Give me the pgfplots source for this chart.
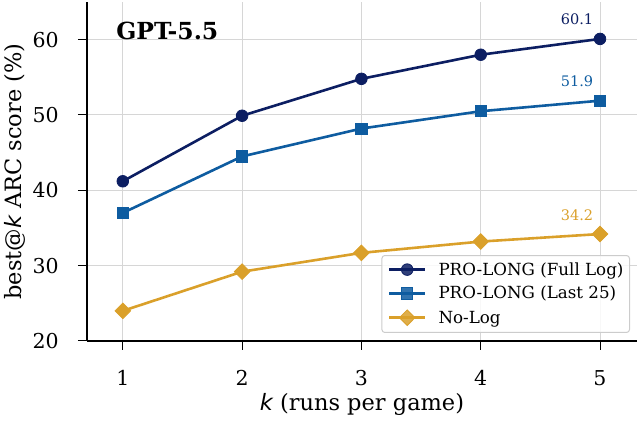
\documentclass[border=0pt]{standalone}
\usepackage{fontspec}
\setmainfont{DejaVu Serif}
\newfontfamily\dvsans{DejaVu Sans}
\usepackage{pgfplots}
\pgfplotsset{compat=1.18}
\definecolor{cFull}{RGB}{12,30,98}
\definecolor{cLast}{RGB}{14,92,160}
\definecolor{cNo}{RGB}{218,160,42}
\begin{document}
\begin{tikzpicture}
\useasboundingbox (-87pt,-81pt) rectangle (551pt,341pt);
\begin{axis}[
  at={(0pt,0pt)}, anchor=south west,
  scale only axis, width=550pt, height=339pt,
  xmin=0.7, xmax=5.31, ymin=20, ymax=65,
  xtick={1,2,3,4,5}, ytick={20,30,40,50,60},
  axis x line*=bottom, axis y line*=left,
  axis line style={-, line width=1.1pt},
  tick style={black, line width=1pt},
  tick align=outside, major tick length=9pt,
  grid=major, grid style={black!16, line width=1pt},
  tick label style={font=\fontsize{20.5}{24}\selectfont, inner sep=0pt},
  xticklabel style={anchor=north},
  yticklabel style={anchor=east},
  xticklabel shift=20pt, yticklabel shift=19pt,
  /pgf/number format/assume math mode=true,
  xlabel={{\dvsans\itshape k} (runs per game)},
  ylabel={best@{\dvsans\itshape k} ARC score (\%)},
  every axis x label/.style={at={(axis description cs:0.5,-0.186)}, anchor=center, font=\fontsize{22.5}{26}\selectfont},
  every axis y label/.style={at={(axis description cs:-0.131,0.5)}, rotate=90, anchor=center, font=\fontsize{22.5}{26}\selectfont},
  legend image code/.code={\draw[mark repeat=2,mark phase=2,#1] plot coordinates {(0pt,0pt) (18pt,0pt) (36pt,0pt)};},
  legend style={at={(rel axis cs:1,0)}, anchor=south east, xshift=-7pt, yshift=8pt,
    draw=black!20, rounded corners=3pt, line width=1pt,
    fill=white, fill opacity=0.85, text opacity=1, draw opacity=1,
    font=\fontsize{16.7}{19}\selectfont,
    inner xsep=6pt, inner ysep=7pt, row sep=9.5pt, column sep=12pt,
    nodes={inner sep=0pt}},
  legend cell align=left,
]
\addplot[cFull, line width=2.6pt, mark=*, mark size=5.8pt, mark options={line width=0.8pt}] coordinates {(1,41.2) (2,49.9) (3,54.8) (4,58.0) (5,60.1)};
\addlegendentry{PRO-LONG (Full Log)}
\addplot[cLast, line width=2.6pt, mark=square*, mark size=5.6pt, mark options={line width=0.8pt}] coordinates {(1,37.0) (2,44.5) (3,48.2) (4,50.5) (5,51.9)};
\addlegendentry{PRO-LONG (Last 25)}
\addplot[cNo, line width=2.6pt, mark=diamond*, mark size=7.8pt, mark options={xscale=1.33, line width=0.8pt}] coordinates {(1,24.0) (2,29.2) (3,31.7) (4,33.2) (5,34.2)};
\addlegendentry{No-Log}
\node[anchor=base, xshift=-23pt, yshift=14pt, text=cFull, font=\fontsize{14.5}{17}\selectfont, inner sep=0pt] at (axis cs:5,60.1) {60.1};
\node[anchor=base, xshift=-23pt, yshift=14pt, text=cLast, font=\fontsize{14.5}{17}\selectfont, inner sep=0pt] at (axis cs:5,51.9) {51.9};
\node[anchor=base, xshift=-23pt, yshift=14pt, text=cNo, font=\fontsize{14.5}{17}\selectfont, inner sep=0pt] at (axis cs:5,34.2) {34.2};
\node[anchor=north west, font=\bfseries\fontsize{23.5}{27}\selectfont, inner sep=0pt] at (rel axis cs:0.053,0.941) {GPT-5.5};
\end{axis}
\end{tikzpicture}
\end{document}
